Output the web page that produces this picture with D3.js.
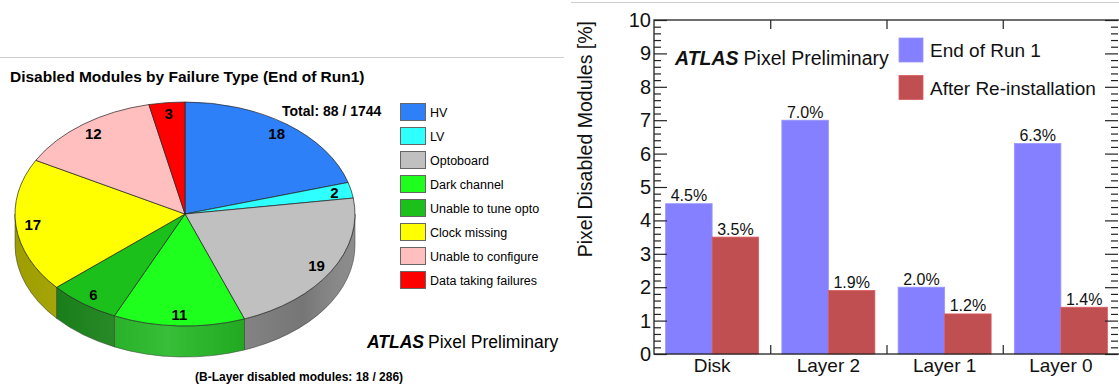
<!DOCTYPE html>
<html>
<head>
<meta charset="utf-8">
<script src="https://cdn.jsdelivr.net/npm/d3@7"></script>
<style>
  html, body { margin: 0; padding: 0; background: #fff; }
  svg { display: block; font-family: "Liberation Sans", Arial, Helvetica, sans-serif; }
</style>
</head>
<body>
<div id="chart"></div>
<script>
// pie data
const failureTypes = ["HV", "LV", "Optoboard", "Dark channel", "Unable to tune opto",
  "Clock missing", "Unable to configure", "Data taking failures"];
const failureCounts = [18, 2, 19, 11, 6, 17, 12, 3];
const failureColors = ["#2e80f8", "#2effff", "#c0c0c0", "#1eff1e", "#1bc01b",
  "#ffff00", "#ffbfbf", "#ff0000"];

// bar data
const layers = ["Disk", "Layer 2", "Layer 1", "Layer 0"];
const seriesNames = ["End of Run 1", "After Re-installation"];
const endOfRun1 = [4.5, 7.0, 2.0, 6.3];
const afterReinstall = [3.5, 1.9, 1.2, 1.4];
const seriesColors = ["#8480ff", "#bf4f51"];
const yTicks = [0, 1, 2, 3, 4, 5, 6, 7, 8, 9, 10];

const W = 1119, H = 385;
const svg = d3.select("#chart").append("svg")
  .attr("width", W)
  .attr("height", H);

// panel separators
svg.append("line")
  .attr("x1", 0).attr("x2", 564).attr("y1", 57.5).attr("y2", 57.5)
  .attr("stroke", "#cfcfcf").attr("stroke-width", 1);
svg.append("line")
  .attr("x1", 571).attr("x2", W).attr("y1", 2.5).attr("y2", 2.5)
  .attr("stroke", "#cfcfcf").attr("stroke-width", 1);

// ---------- left: 3D pie ----------
const left = svg.append("g");

left.append("text")
  .attr("x", 10).attr("y", 82)
  .style("font-size", "15.5px").style("font-weight", "bold")
  .text("Disabled Modules by Failure Type (End of Run1)");

left.append("text")
  .attr("x", 282).attr("y", 116)
  .style("font-size", "14px").style("font-weight", "bold")
  .text("Total: 88 / 1744");

const cx = 185, cy = 214, rx = 170, ry = 112, depth = 31;
const P = (a, dy = 0, f = 1) => [cx + f * rx * Math.sin(a), cy - f * ry * Math.cos(a) + dy];

const pieData = failureCounts.map((v, i) => ({ name: failureTypes[i], value: v, color: failureColors[i] }));
const arcs = d3.pie().sort(null).value(d => d.value)(pieData);

const defs = svg.append("defs");
const shade = defs.append("linearGradient")
  .attr("id", "sideShade")
  .attr("gradientUnits", "userSpaceOnUse")
  .attr("x1", cx - rx).attr("x2", cx + rx).attr("y1", 0).attr("y2", 0);
shade.append("stop").attr("offset", "0").attr("stop-color", "#000").attr("stop-opacity", 0.12);
shade.append("stop").attr("offset", "0.45").attr("stop-color", "#fff").attr("stop-opacity", 0.15);
shade.append("stop").attr("offset", "0.85").attr("stop-color", "#000").attr("stop-opacity", 0.12);
shade.append("stop").attr("offset", "1").attr("stop-color", "#fff").attr("stop-opacity", 0.05);

function sidePath(a0, a1) {
  const p0 = P(a0), p1 = P(a1), q1 = P(a1, depth), q0 = P(a0, depth);
  return `M${p0}A${rx},${ry} 0 0 1 ${p1}L${q1}A${rx},${ry} 0 0 0 ${q0}Z`;
}

// side walls (front half only)
arcs.forEach(a => {
  const s0 = Math.max(a.startAngle, Math.PI / 2);
  const s1 = Math.min(a.endAngle, 3 * Math.PI / 2);
  if (s1 <= s0) return;
  const d = sidePath(s0, s1);
  left.append("path")
    .attr("d", d)
    .attr("fill", d3.color(a.data.color).darker(1))
    .attr("stroke", "#333").attr("stroke-width", 0.5);
  left.append("path")
    .attr("d", d)
    .attr("fill", "url(#sideShade)");
});

// top slices
arcs.forEach(a => {
  const p0 = P(a.startAngle), p1 = P(a.endAngle);
  const large = a.endAngle - a.startAngle > Math.PI ? 1 : 0;
  left.append("path")
    .attr("d", `M${cx},${cy}L${p0}A${rx},${ry} 0 ${large} 1 ${p1}Z`)
    .attr("fill", a.data.color)
    .attr("stroke", "#222").attr("stroke-width", 0.7)
    .attr("stroke-linejoin", "round");
});

arcs.forEach(a => {
  const [lx, ly] = P((a.startAngle + a.endAngle) / 2, 0, 0.9);
  left.append("text")
    .attr("x", lx).attr("y", ly)
    .attr("text-anchor", "middle")
    .attr("dominant-baseline", "central")
    .style("font-size", "15px").style("font-weight", "bold")
    .text(a.data.value);
});

// pie legend
const pieLegend = left.append("g").attr("transform", "translate(400,103)");
pieData.forEach((d, i) => {
  const item = pieLegend.append("g").attr("transform", `translate(0,${i * 24})`);
  item.append("rect")
    .attr("x", 0.5).attr("y", 0.5).attr("width", 25).attr("height", 17)
    .attr("fill", d.color).attr("stroke", "#666").attr("stroke-width", 1);
  item.append("text")
    .attr("x", 30).attr("y", 13.5)
    .style("font-size", "12.5px")
    .text(d.name);
});

const atlasL = left.append("text")
  .attr("x", 367).attr("y", 348)
  .style("font-size", "17.5px");
atlasL.append("tspan").style("font-weight", "bold").style("font-style", "italic").text("ATLAS");
atlasL.append("tspan").attr("dx", 4).text("Pixel Preliminary");

left.append("text")
  .attr("x", 195).attr("y", 381)
  .style("font-size", "12px").style("font-weight", "bold")
  .text("(B-Layer disabled modules: 18 / 286)");

// ---------- right: bar chart ----------
const plot = { left: 654, right: 1119, top: 20, bottom: 354 };
const right = svg.append("g");

const x = d3.scaleBand().domain(layers).range([plot.left, plot.right]).paddingInner(0).paddingOuter(0);
const xs = d3.scaleBand().domain(seriesNames).range([0, x.bandwidth()]).paddingInner(0).paddingOuter(0.25);
const y = d3.scaleLinear().domain([0, 10]).range([plot.bottom, plot.top]);

const values = [endOfRun1, afterReinstall];
seriesNames.forEach((s, si) => {
  const g = right.append("g");
  g.selectAll("rect")
    .data(layers)
    .join("rect")
    .attr("x", d => x(d) + xs(s))
    .attr("y", (d, i) => y(values[si][i]))
    .attr("width", xs.bandwidth())
    .attr("height", (d, i) => y(0) - y(values[si][i]))
    .attr("fill", seriesColors[si])
    .attr("stroke", d3.color(seriesColors[si]).brighter(0.4))
    .attr("stroke-width", 0.8);
  g.selectAll("text")
    .data(layers)
    .join("text")
    .attr("x", d => x(d) + xs(s) + xs.bandwidth() / 2)
    .attr("y", (d, i) => y(values[si][i]) - 2.5)
    .attr("text-anchor", "middle")
    .style("font-size", "16px")
    .style("fill", "#111")
    .text((d, i) => values[si][i].toFixed(1) + "%");
});

const minorTicks = d3.range(0, 10.001, 0.2).filter(v => Math.abs(v - Math.round(v)) > 1e-6);

function styleAxis(sel) {
  sel.select(".domain").remove();
  sel.selectAll("line").attr("stroke", "#222").attr("stroke-width", 1.2);
}

right.append("g")
  .attr("transform", `translate(${plot.left},0)`)
  .call(d3.axisLeft(y).tickValues(yTicks).tickSize(-13).tickPadding(4).tickFormat(d3.format("d")))
  .call(styleAxis)
  .call(g => g.selectAll("text").style("font-size", "20px").style("fill", "#111")
    .attr("x", -3));
right.append("g")
  .attr("transform", `translate(${plot.left},0)`)
  .call(d3.axisLeft(y).tickValues(minorTicks).tickSize(-7).tickFormat(""))
  .call(styleAxis);
right.append("g")
  .attr("transform", `translate(${plot.right - 1},0)`)
  .call(d3.axisRight(y).tickValues(yTicks).tickSize(-13).tickFormat(""))
  .call(styleAxis);
right.append("g")
  .attr("transform", `translate(${plot.right - 1},0)`)
  .call(d3.axisRight(y).tickValues(minorTicks).tickSize(-7).tickFormat(""))
  .call(styleAxis);

// category labels
right.append("g")
  .attr("transform", `translate(0,${plot.bottom})`)
  .call(d3.axisBottom(x).tickSize(0).tickPadding(5))
  .call(g => g.select(".domain").remove())
  .call(g => g.selectAll("text").style("font-size", "19px").style("fill", "#111"));

// category boundary ticks (bottom & top)
const bounds = layers.slice(1).map(d => x(d));
right.append("g")
  .attr("transform", `translate(0,${plot.bottom})`)
  .call(d3.axisTop(d3.scaleIdentity()).tickValues(bounds).tickSize(9).tickFormat(""))
  .call(styleAxis);
right.append("g")
  .attr("transform", `translate(0,${plot.top})`)
  .call(d3.axisBottom(d3.scaleIdentity()).tickValues(bounds).tickSize(9).tickFormat(""))
  .call(styleAxis);

// frame
right.append("rect")
  .attr("x", plot.left).attr("y", plot.top)
  .attr("width", plot.right - plot.left + 2).attr("height", plot.bottom - plot.top)
  .attr("fill", "none").attr("stroke", "#222").attr("stroke-width", 1.3);

right.append("text")
  .attr("transform", `translate(592,${plot.top + 1}) rotate(-90)`)
  .attr("text-anchor", "end")
  .style("font-size", "19.5px").style("fill", "#111")
  .text("Pixel Disabled Modules [%]");

const atlasR = right.append("text")
  .attr("x", 675).attr("y", 65)
  .style("font-size", "19.5px").style("fill", "#111");
atlasR.append("tspan").style("font-weight", "bold").style("font-style", "italic").text("ATLAS");
atlasR.append("tspan").attr("dx", 5).text("Pixel Preliminary");

// bar legend
const barLegend = right.append("g").attr("transform", "translate(899,38)");
seriesNames.forEach((s, i) => {
  const item = barLegend.append("g").attr("transform", `translate(0,${i * 37.5})`);
  item.append("rect")
    .attr("width", 24).attr("height", 24)
    .attr("fill", seriesColors[i])
    .attr("stroke", d3.color(seriesColors[i]).brighter(0.4)).attr("stroke-width", 0.8);
  item.append("text")
    .attr("x", 31).attr("y", 19)
    .style("font-size", "19px").style("fill", "#111")
    .text(s);
});
</script>
</body>
</html>
